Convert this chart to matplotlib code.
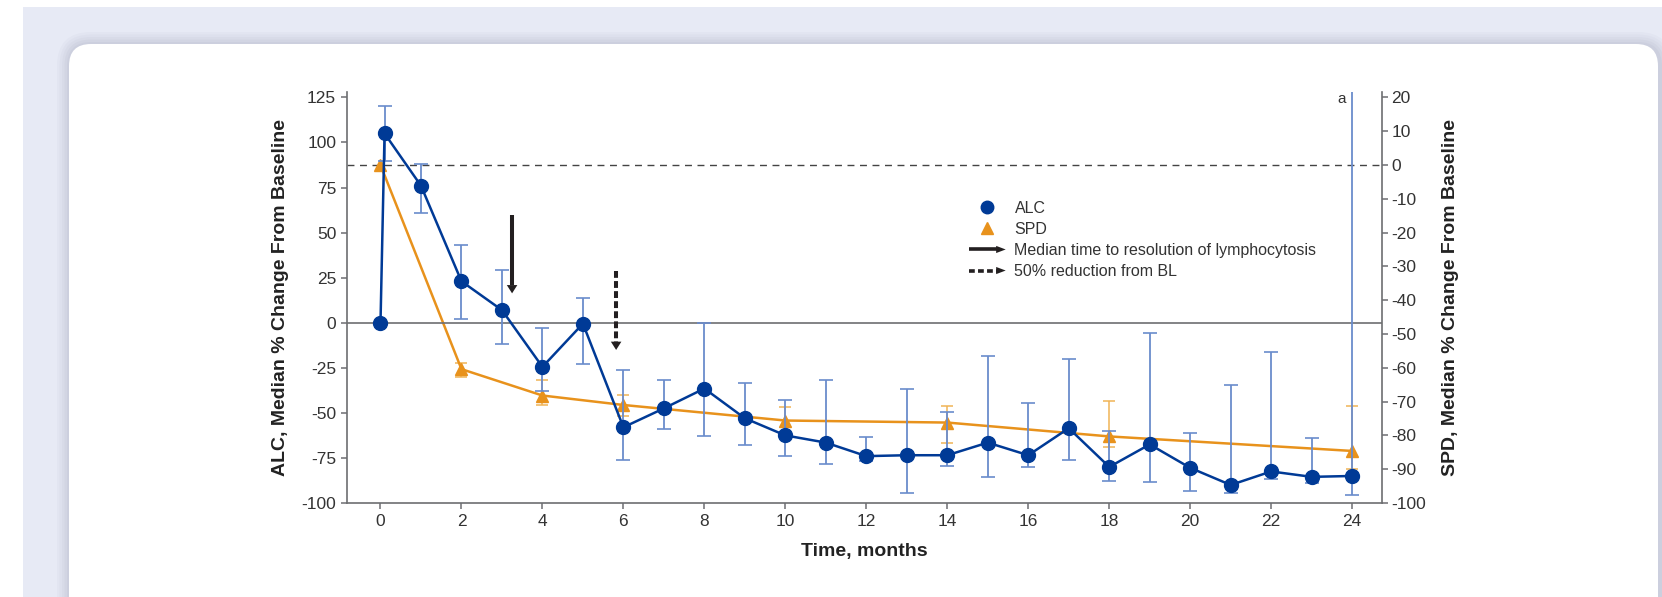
import numpy as np
import matplotlib
matplotlib.use("Agg")
import matplotlib.pyplot as plt
from matplotlib.lines import Line2D
from matplotlib.patches import Polygon, FancyBboxPatch, Rectangle
from matplotlib.legend_handler import HandlerBase
from matplotlib.transforms import IdentityTransform

plt.rcParams['font.family'] = ['Liberation Sans', 'DejaVu Sans']
plt.rcParams['axes.unicode_minus'] = False

# ALC: median % change from baseline (left axis)
alc_months = [0, 0.1, 1, 2, 3, 4, 5, 6, 7, 8, 9, 10, 11, 12, 13, 14, 15, 16, 17, 18, 19, 20, 21, 22, 23, 24]
alc_median = [0, 105, 76, 23, 7, -24.5, -0.5, -58, -47.5, -36.5, -53, -62.5, -66.5, -74, -73.5, -73.5,
              -66.5, -73.5, -58.5, -80, -67.5, -80.5, -90, -82.5, -85.5, -85]
alc_upper = [np.nan, 120, 88, 43, 29.3, -2.7, 13.8, -26.2, -31.7, -0.4, -33.2, -42.6, -31.9, -63.5, -36.7,
             -49.3, -18.4, -44.8, -20.3, -59.8, -5.7, -60.9, -34.3, -16.1, -64.2, 140]
alc_lower = [np.nan, 89.7, 60.6, 2.3, -11.8, -37.8, -23, -76, -59.2, -63.1, -67.9, -74, -78.2, -76.5, -94.7,
             -79.7, -85.6, -80.1, -76, -88, -88.4, -93.4, -94.5, -86.7, -88.9, -95.4]

# SPD: median % change from baseline (right axis)
spd_months = [0, 2, 4, 6, 10, 14, 18, 24]
spd_median = [0, -60.4, -68.2, -71, -75.6, -76.2, -80.3, -84.6]
spd_upper = [np.nan, -58.5, -63.6, -68.1, -71.7, -71.2, -69.9, -71.2]
spd_lower = [np.nan, -62.6, -71.1, -74.4, -79.0, -82.3, -83.4, -89.9]

# annotation arrows: (month, start, tip) on ALC scale
arrow_solid = (3.25, 59.6, 16.3)
arrow_dashed = (5.82, 28.8, -15.1)

legend_labels = ["ALC", "SPD", "Median time to resolution of lymphocytosis", "50% reduction from BL"]

BLUE = '#003a96'
BLUE_ERR = '#6a8ccc'
ORANGE = '#e8921c'
ORANGE_ERR = '#f0b456'
ARROW = '#231f20'
SPINE = '#6d6e71'
TEXT = '#333333'

W, H = 1662, 597
fig = plt.figure(figsize=(W / 100, H / 100), dpi=100)
fig.patch.set_facecolor('white')

# page background + card
fig.patches.append(Rectangle((23, 0), W - 23, H - 7, transform=IdentityTransform(),
                             facecolor='#e7eaf5', edgecolor='none', zorder=-10))
for i, a in enumerate([0.05, 0.05, 0.06, 0.07, 0.08]):
    g = 12 - i * 2.5
    fig.patches.append(FancyBboxPatch((69 - g, -40 - g), 1591 + 2 * g, H - 44 + 40 + 2 * g,
                                      boxstyle="round,pad=0,rounding_size=%f" % (22 + g),
                                      transform=IdentityTransform(), facecolor='#8a8fa8',
                                      edgecolor='none', alpha=a, zorder=-9))
fig.patches.append(FancyBboxPatch((69, -40), 1589, H - 44 + 40, boxstyle="round,pad=0,rounding_size=22",
                                  transform=IdentityTransform(), facecolor='white',
                                  edgecolor='none', zorder=-8))

ax = fig.add_axes([347.3 / W, 94 / H, (1381.7 - 347.3) / W, (503 - 92) / H])
ax2 = ax.twinx()
ax2.set_zorder(ax.get_zorder() - 1)
ax.patch.set_visible(False)

ALC_LIM = (-100, 128)
# ALC -100..125 spans the same height as SPD -100..20
spd_top = -100 + (ALC_LIM[1] + 100) * 120 / 225
ax.set_ylim(*ALC_LIM)
ax2.set_ylim(-100, spd_top)
ax.set_xlim(-0.82, 24.73)

# reference lines
ax.axhline(0, color=SPINE, lw=1.2, zorder=1)
ax2.axhline(0, color='#444444', lw=1.0, ls=(0, (5, 4)), zorder=1)

# SPD series
spd_m = np.array(spd_median)
spd_err = [spd_m - np.array(spd_lower), np.array(spd_upper) - spd_m]
ax2.errorbar(spd_months, spd_m, yerr=spd_err, fmt='none', ecolor=ORANGE_ERR, elinewidth=1.1,
             capsize=4.5, capthick=1.1, zorder=2)
ax2.plot(spd_months, spd_m, color=ORANGE, lw=1.8, marker='^', markersize=9, zorder=3)

# ALC series
alc_m = np.array(alc_median)
alc_err = [alc_m - np.array(alc_lower), np.array(alc_upper) - alc_m]
ax.errorbar(alc_months, alc_m, yerr=alc_err, fmt='none', ecolor=BLUE_ERR, elinewidth=1.3,
            capsize=4.8, capthick=1.2, zorder=2)
ax.plot(alc_months, alc_m, color=BLUE, lw=1.8, marker='o', markersize=10, zorder=3)


def draw_arrow(axis, arrow, dashed):
    x, y0, y1 = arrow
    head_len, head_half = 4.6, 0.13
    ls = (0, (1.7, 0.8)) if dashed else '-'
    axis.plot([x, x], [y0, y1 + head_len], color=ARROW, lw=2.9, ls=ls, solid_capstyle='butt', zorder=4)
    axis.add_patch(Polygon([[x - head_half, y1 + head_len], [x + head_half, y1 + head_len], [x, y1]],
                           closed=True, facecolor=ARROW, edgecolor='none', zorder=4))


draw_arrow(ax, arrow_solid, False)
draw_arrow(ax, arrow_dashed, True)

# truncated error bar note
ax.text(23.85, ALC_LIM[1], 'a', ha='right', va='top', fontsize=11, color=TEXT)

# axes styling
for s in ['top', 'right']:
    ax.spines[s].set_visible(False)
for s in ['top', 'left', 'bottom']:
    ax2.spines[s].set_visible(False)
for sp in [ax.spines['left'], ax.spines['bottom'], ax2.spines['right']]:
    sp.set_color(SPINE)
    sp.set_linewidth(1.2)

ax.set_xticks(range(0, 25, 2))
ax.set_yticks(range(-100, 126, 25))
ax2.set_yticks(range(-100, 21, 10))
ax.tick_params(axis='both', direction='out', length=4, width=1.1, color=SPINE, labelcolor=TEXT,
               labelsize=12.5, pad=4)
ax2.tick_params(axis='y', direction='out', length=4, width=1.1, color=SPINE, labelcolor=TEXT,
                labelsize=12.5, pad=3)

ax.set_xlabel('Time, months', fontsize=14, fontweight='bold', color='#222222')
ax.xaxis.set_label_coords(0.5, -0.097)
ax.set_ylabel('ALC, Median % Change From Baseline', fontsize=14, fontweight='bold', color='#222222')
ax.yaxis.set_label_coords(-0.056, 0.5)
ax2.set_ylabel('SPD, Median % Change From Baseline', fontsize=14, fontweight='bold', color='#222222',
               rotation=90)
ax2.yaxis.set_label_coords(1.058, 0.5)


class ArrowHandler(HandlerBase):
    def __init__(self, dashed=False):
        super().__init__()
        self.dashed = dashed

    def create_artists(self, legend, orig_handle, xdescent, ydescent, width, height, fontsize, trans):
        y = height / 2 - ydescent
        x0 = -xdescent
        x1 = x0 + width
        head = width * 0.26
        ls = (0, (1.6, 0.9)) if self.dashed else '-'
        shaft = Line2D([x0, x1 - head * 0.9], [y, y], color=ARROW, lw=2.6, ls=ls,
                       solid_capstyle='butt', transform=trans)
        tri = Polygon([[x1 - head, y + height * 0.32], [x1, y], [x1 - head, y - height * 0.32]],
                      closed=True, facecolor=ARROW, edgecolor='none', transform=trans)
        return [shaft, tri]


class ArrowKey:
    pass


solid_key, dashed_key = ArrowKey(), ArrowKey()
handles = [Line2D([], [], color=BLUE, marker='o', ls='none', markersize=9),
           Line2D([], [], color=ORANGE, marker='^', ls='none', markersize=8),
           solid_key, dashed_key]
leg = ax.legend(handles, legend_labels, loc='upper left', bbox_to_anchor=(0.601, 0.735), frameon=False,
                fontsize=11.5, handlelength=2.3, handletextpad=0.55, labelspacing=0.38, borderpad=0,
                borderaxespad=0,
                handler_map={solid_key: ArrowHandler(False), dashed_key: ArrowHandler(True)})
for t in leg.get_texts():
    t.set_color(TEXT)

fig.savefig('out.png', dpi=100)
